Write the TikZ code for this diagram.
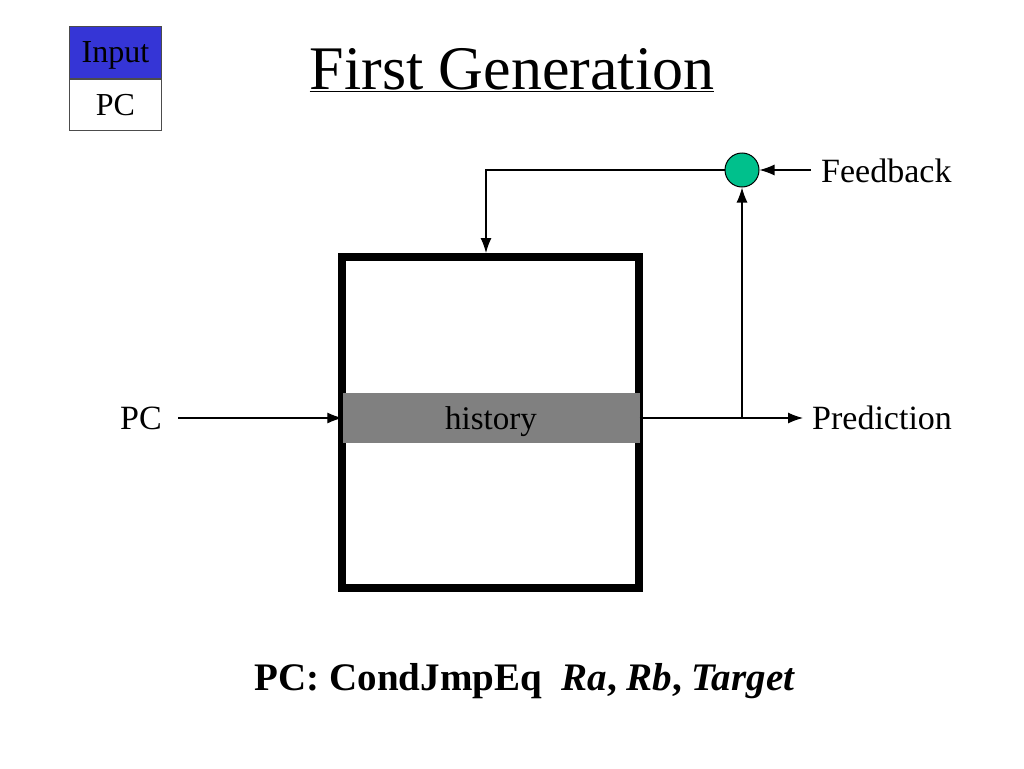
\documentclass[tikz,border=0pt]{standalone}
\usepackage{fontspec}
\setmainfont{Liberation Serif}
\usetikzlibrary{arrows.meta,positioning}

\definecolor{inputblue}{RGB}{53,53,214}
\definecolor{sumgreen}{RGB}{0,192,140}
\definecolor{histgray}{RGB}{128,128,128}

\begin{document}
\begin{tikzpicture}[x=1pt, y=-1pt, >={Latex[length=15pt,width=11pt]},
  conn/.style={->,line width=1.2pt},
  label/.style={font=\fontsize{34}{40}\selectfont, inner sep=2pt},
  keybox/.style={draw=black!70, line width=1pt, minimum width=92pt,
    font=\fontsize{32}{38}\selectfont, inner sep=0pt, text depth=0pt}]

  \useasboundingbox (0,0) rectangle (1024,768);

  % Legend box top left
  \node[keybox, fill=inputblue, minimum height=52pt, anchor=north west] (inputkey) at (69,26) {Input};
  \node[keybox, fill=white, minimum height=51pt, anchor=north] (pckey) at (inputkey.south) {PC};

  % Title
  \node[font=\fontsize{62}{72}\selectfont] (title) at (512,70) {\underline{First Generation}};

  % Predictor table and history register
  \node[draw, line width=8pt, minimum width=297pt, minimum height=331pt] (predictor) at (490.5,422.5) {};
  \node[fill=histgray, minimum width=297pt, minimum height=50pt, inner sep=0pt, text depth=0pt,
    font=\fontsize{33}{40}\selectfont] (history) at (491,418) {history};

  % Combining circle
  \node[circle, draw, line width=1pt, fill=sumgreen, minimum size=34pt, inner sep=0pt] (sum) at (742,170) {};

  % Outside labels
  \node[label, anchor=east] (pcin) at (164,418) {PC};
  \node[label, anchor=west] (prediction) at (810,418) {Prediction};
  \node[label, anchor=west] (feedback) at (819,171) {Feedback};
  \coordinate (split) at (742,418);

  % Connectors
  \draw[conn, shorten <=14pt] (pcin.east) -- (history.west |- split);
  \draw[line width=1.2pt] (history.east |- split) -- (split);
  \draw[conn, shorten >=7pt] (split) -- (split -| prediction.west);
  \draw[conn] (split) -- (sum.south);
  \draw[conn, shorten <=8pt] (feedback.west |- sum) -- (sum.east);
  \draw[conn] (sum.west) -| ([xshift=-4.5pt]predictor.north);

  % Instruction format
  \node[font=\bfseries\fontsize{39}{46}\selectfont] (instr) at (525,681)
    {PC: CondJmpEq\ \ \textit{Ra}, \textit{Rb}, \textit{Target}};

\end{tikzpicture}
\end{document}
